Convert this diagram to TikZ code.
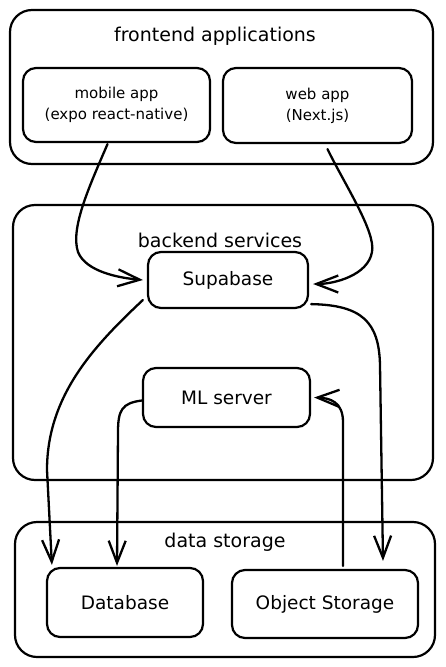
\documentclass[tikz,border=0pt]{standalone}
\usepackage{fontspec}
\setmainfont{DejaVu Sans}
\usetikzlibrary{arrows.meta,calc}
\begin{document}
\begin{tikzpicture}[x=1pt,y=-1pt,
  box/.style={draw, line width=2.2pt, rounded corners=13pt, inner sep=0pt, align=center, font=\fontsize{18.5}{22}\selectfont},
  smallbox/.style={box, font=\fontsize{15}{21}\selectfont},
  grp/.style={draw, line width=2.2pt, rounded corners=22pt, inner sep=0pt},
  ttl/.style={font=\fontsize{19}{22}\selectfont},
  conn/.style={line width=2.3pt, line cap=round, -{Straight Barb[length=22pt,width=17pt,line width=2.3pt]}}
]
\useasboundingbox (0,0) rectangle (446,667);
% groups
\node[grp, minimum width=423pt, minimum height=154pt] (front) at (221.5,87) {};
\node[grp, minimum width=420pt, minimum height=275pt] (back) at (223,342.5) {};
\node[grp, minimum width=420pt, minimum height=135pt] (data) at (225,589.5) {};
\node[ttl] (fronttitle) at (215,36) {frontend applications};
\node[ttl] (backtitle) at (220,240) {backend services};
\node[ttl] (datatitle) at (225,542) {data storage};
% boxes
\node[smallbox, minimum width=187pt, minimum height=74pt] (mobile) at (116.5,105) {mobile app\\(expo react-native)};
\node[smallbox, minimum width=189pt, minimum height=75pt] (web) at (317.5,105.5) {web app\\(Next.js)};
\node[box, minimum width=160pt, minimum height=56pt] (supa) at (228,280) {Supabase};
\node[box, minimum width=167pt, minimum height=59pt] (ml) at (226.5,397.5) {ML server};
\node[box, minimum width=156pt, minimum height=69pt] (db) at (125,602.5) {Database};
\node[box, minimum width=186pt, minimum height=68pt] (obj) at (325,604) {Object Storage};
% connectors
\draw[conn] ($(mobile.south)+(-9,1)$) .. controls (90,185) and (70,228) .. (78,252) .. controls (86,272) and (120,278) .. ($(supa.west)+(-4,0)$);
\draw[conn] ($(web.south)+(10,5)$) .. controls (345,185) and (376,232) .. (372,252) .. controls (368,275) and (335,284) .. ($(supa.east)+(4,4)$);
\draw[conn] ($(supa.west)+(-4,20)$) .. controls (95,345) and (47,395) .. (47,470) -- ($(db.north west)+(6,-2)$);
\draw[conn] ($(supa.south east)+(2,-5)$) .. controls (362,305) and (379,322) .. (380,365) -- ($(obj.north)+(58,-8)$);
\draw[conn] ($(ml.west)+(0,3)$) .. controls (122,403) and (118,410) .. (118,432) -- ($(db.north)+(-8,-1)$);
\draw[conn] ($(obj.north)+(18,-3)$) -- (343,422) .. controls (343,402) and (330,398) .. ($(ml.east)+(3,0)$);
\end{tikzpicture}
\end{document}
